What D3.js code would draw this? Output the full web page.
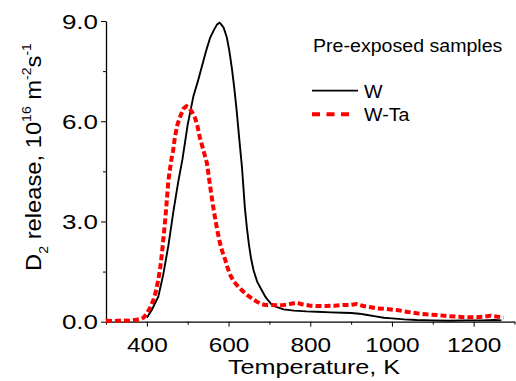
<!DOCTYPE html>
<html>
<head>
<meta charset="utf-8">
<script src="https://cdn.jsdelivr.net/npm/d3@7"></script>
<style>
  body { margin: 0; background: #fff; }
  text { font-family: "Liberation Sans", Arial, sans-serif; fill: #000; }
</style>
</head>
<body>
<div id="chart"></div>
<script>
// W sample (black solid)
var wTemp = [400,412,428,440,453,465,477,487,500,514,525,535,545,555,565,572,578,582,588,596,602,608,614,620,626,633,640,645,650,655,661,670,681,690,698,705,715,735,760,790,816,850,880,900,920,940,960,980,1000,1030,1060,1100,1140,1180,1220,1250,1268];
var wVal  = [0.12,0.35,0.75,1.4,2.3,3.3,4.2,4.85,5.9,6.75,7.2,7.65,8.1,8.5,8.75,8.9,8.95,8.9,8.8,8.5,8.1,7.6,7.0,6.3,5.5,4.6,3.4,2.8,2.3,1.9,1.55,1.2,0.95,0.75,0.62,0.52,0.45,0.37,0.33,0.31,0.30,0.28,0.27,0.26,0.24,0.2,0.16,0.12,0.1,0.07,0.05,0.04,0.03,0.04,0.04,0.05,0.04];

// W-Ta sample (red dashed)
var wtTemp = [300,320,340,360,375,385,392,400,408,416,422,428,433,437,441,445,449,453,457,460,464,469,475,482,490,497,504,512,518,524,530,538,547,555,561,567,573,580,586,592,598,604,612,620,632,645,657,669,680,690,705,720,735,750,767,780,800,816,840,860,880,898,914,930,945,963,985,1012,1035,1061,1085,1110,1135,1159,1185,1208,1225,1241,1258,1273];
var wtVal  = [0.03,0.02,0.04,0.03,0.06,0.08,0.12,0.25,0.42,0.65,0.9,1.25,1.65,2.05,2.55,3.05,3.65,4.25,4.6,4.85,5.1,5.55,5.9,6.15,6.38,6.45,6.4,6.25,6.1,5.85,5.5,5.15,4.75,4.05,3.55,3.1,2.7,2.3,2.05,1.85,1.6,1.4,1.22,1.1,0.95,0.8,0.7,0.6,0.53,0.5,0.5,0.49,0.5,0.53,0.57,0.52,0.48,0.47,0.47,0.48,0.5,0.5,0.53,0.47,0.44,0.4,0.38,0.35,0.3,0.25,0.22,0.2,0.17,0.15,0.13,0.13,0.15,0.18,0.15,0.12];

var xMajor = [400,600,800,1000,1200];
var xMinor = [300,500,700,900,1100,1300];
var yMajor = [0,3,6,9];
var yMinor = [1.5,4.5,7.5];

var seriesNames = ["W","W-Ta"];
var legendTitle = "Pre-exposed samples";

var w = 516, h = 381;
var svg = d3.select("#chart").append("svg").attr("width", w).attr("height", h);

var x = d3.scaleLinear().domain([300,1300]).range([106,514.5]);
var y = d3.scaleLinear().domain([0,9]).range([321.7,21]);

// x axis: minor ticks then major ticks with labels
var gx = svg.append("g").attr("transform","translate(0," + y(0) + ")");
gx.call(d3.axisBottom(x).tickValues(xMinor).tickSize(3).tickFormat("").tickSizeOuter(0));
gx.append("g").call(d3.axisBottom(x).tickValues(xMajor).tickSize(5).tickSizeOuter(0).tickFormat(d3.format("d")))
  .select(".domain").remove();
// source font is wider than Arial, so stretch the labels a bit
gx.selectAll(".tick text").attr("y",30).attr("dy",0).style("font-size","20px").attr("transform","scale(1.22,1)");
gx.selectAll(".domain").attr("stroke","#000").attr("stroke-width",1.3);

// y axis
var gy = svg.append("g").attr("transform","translate(" + x(300) + ",0)");
gy.call(d3.axisLeft(y).tickValues(yMinor).tickSize(3).tickFormat("").tickSizeOuter(0));
gy.append("g").call(d3.axisLeft(y).tickValues(yMajor).tickSize(5).tickSizeOuter(0).tickFormat(d3.format(".1f")))
  .select(".domain").remove();
gy.selectAll(".tick text").style("font-size","20px").attr("x",-8/1.3).attr("dy","0.35em").attr("transform","scale(1.3,1)");
gy.selectAll(".domain").attr("stroke","#000").attr("stroke-width",1.3);

// curves
var line = d3.line().x(function(d){ return x(d[0]); }).y(function(d){ return y(d[1]); });
var wData = d3.zip(wTemp, wVal), wtData = d3.zip(wtTemp, wtVal);

svg.append("path").datum(wData).attr("d", line)
  .attr("fill","none").attr("stroke","#000").attr("stroke-width",1.9);
svg.append("path").datum(wtData).attr("d", line)
  .attr("fill","none").attr("stroke","#ff0000").attr("stroke-width",4).attr("stroke-dasharray","6,3");

// axis titles
svg.append("text").attr("transform","translate(314,374) scale(1.2,1)")
  .attr("text-anchor","middle").style("font-size","21px").text("Temperature, K");

var yt = svg.append("text").attr("transform","translate(41,157) rotate(-90) scale(1.08,1)")
  .attr("text-anchor","middle").style("font-size","22px");
yt.append("tspan").text("D");
yt.append("tspan").attr("dy",7).style("font-size","13px").text("2");
yt.append("tspan").attr("dy",-7).text(" release, 10");
yt.append("tspan").attr("dy",-10).style("font-size","13px").text("16");
yt.append("tspan").attr("dy",10).text(" m");
yt.append("tspan").attr("dy",-10).style("font-size","13px").text("-2");
yt.append("tspan").attr("dy",10).text("s");
yt.append("tspan").attr("dy",-10).style("font-size","13px").text("-1");

// legend
svg.append("text").attr("transform","translate(313,52) scale(1.12,1)").style("font-size","17.5px").text(legendTitle);
var leg = svg.append("g");
leg.append("line").attr("x1",312).attr("x2",358).attr("y1",90.7).attr("y2",90.7).attr("stroke","#000").attr("stroke-width",1.8);
leg.append("line").attr("x1",312).attr("x2",350).attr("y1",114.3).attr("y2",114.3).attr("stroke","#ff0000").attr("stroke-width",4).attr("stroke-dasharray","8,6.5");
leg.selectAll("text.lab").data(seriesNames).enter().append("text").attr("class","lab")
  .attr("transform", function(d,i){ return "translate(364," + (98 + i*22.7) + ") scale(1.12,1)"; })
  .style("font-size","17.5px").text(function(d){ return d; });
</script>
</body>
</html>
